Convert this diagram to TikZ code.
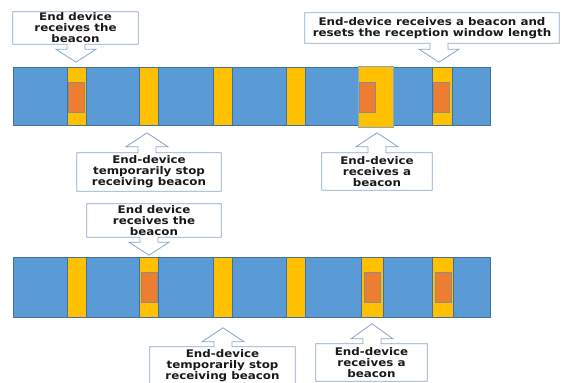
\documentclass[tikz,border=0pt]{standalone}
\usepackage{fontspec}
\setmainfont{DejaVu Sans}[FakeStretch=1.13]
\usetikzlibrary{calc}

\definecolor{slotblue}{HTML}{5B9BD5}
\definecolor{slotyellow}{HTML}{FFC000}
\definecolor{rxorange}{HTML}{ED7D31}
\definecolor{baredge}{HTML}{41719C}
\definecolor{calledge}{HTML}{8AA6C8}

\tikzset{
  idle/.style={fill=slotblue, draw=baredge, line width=0.6pt},
  window/.style={fill=slotyellow, draw=baredge, line width=0.6pt},
  rxbox/.style={fill=rxorange, draw=black!45, line width=0.6pt},
  callbox/.style={inner sep=0pt, align=center, text=black!90,
    font=\bfseries\fontsize{10.5}{11}\selectfont},
  callline/.style={draw=calledge, line width=0.8pt, line join=miter},
}

\begin{document}
\begin{tikzpicture}[x=1pt,y=-1pt]
  \useasboundingbox (0,0) rectangle (574,383);
  \clip (0,0) rectangle (574,383);

  % upper time line
  \draw[idle] (13,67) rectangle (490,125);
  \foreach \xa/\xb in {67/86, 139/158, 213/232, 286/305, 432/452}
    \draw[window] (\xa,67) rectangle (\xb,125);
  \draw[window, draw=calledge] (358,66) rectangle (393,127);
  \foreach \xa in {68, 359, 433}
    \draw[rxbox] (\xa,82) rectangle ++(16,30);

  % lower time line
  \draw[idle] (13,257) rectangle (490,317);
  \foreach \xa/\xb in {67/86, 139/158, 213/232, 286/305, 361/383, 432/453}
    \draw[window] (\xa,257) rectangle (\xb,317);
  \foreach \xa in {141, 364, 435}
    \draw[rxbox] (\xa,272) rectangle ++(16,30);

  % callouts pointing down
  \node[callbox, minimum width=125pt, minimum height=32pt] (rx1) at (75.5,28)
    {End device\\receives the\\beacon};
  \coordinate (t1) at ([xshift=0.5pt,yshift=-18pt]rx1.south);
  \draw[callline] (rx1.south east) -- (rx1.north east) -- (rx1.north west)
    -- (rx1.south west) -- ([xshift=-9pt]rx1.south -| t1) -- ++(0,5)
    -- ++(-11,0) -- (t1) -- ++(20,-13) -- ++(-11,0) -- ++(0,-5) -- cycle;

  \node[callbox, minimum width=254pt, minimum height=30pt] (reset) at (432,28)
    {End-device receives a beacon and\\resets the reception window length};
  \coordinate (t2) at ([xshift=7pt,yshift=-19pt]reset.south);
  \draw[callline] (reset.south east) -- (reset.north east) -- (reset.north west)
    -- (reset.south west) -- ([xshift=-9pt]reset.south -| t2) -- ++(0,6)
    -- ++(-11,0) -- (t2) -- ++(20,-13) -- ++(-11,0) -- ++(0,-6) -- cycle;

  \node[callbox, minimum width=134pt, minimum height=33pt] (rx2) at (154,220.5)
    {End device\\receives the\\beacon};
  \coordinate (t5) at ([xshift=-5pt,yshift=-18pt]rx2.south);
  \draw[callline] (rx2.south east) -- (rx2.north east) -- (rx2.north west)
    -- (rx2.south west) -- ([xshift=-9pt]rx2.south -| t5) -- ++(0,5)
    -- ++(-11,0) -- (t5) -- ++(20,-13) -- ++(-11,0) -- ++(0,-5) -- cycle;

  % callouts pointing up
  \node[callbox, minimum width=144pt, minimum height=38pt] (stop1) at (149,172)
    {End-device\\temporarily stop\\receiving beacon};
  \coordinate (t3) at ([xshift=-2pt,yshift=20pt]stop1.north);
  \draw[callline] (stop1.north west) -- (stop1.south west) -- (stop1.south east)
    -- (stop1.north east) -- ([xshift=9pt]stop1.north -| t3) -- ++(0,-6)
    -- ++(12,0) -- (t3) -- ++(-21,14) -- ++(12,0) -- ++(0,6) -- cycle;

  \node[callbox, minimum width=110pt, minimum height=37pt] (got1) at (377,171.5)
    {End-device\\receives a\\beacon};
  \coordinate (t4) at ([yshift=20pt]got1.north);
  \draw[callline] (got1.north west) -- (got1.south west) -- (got1.south east)
    -- (got1.north east) -- ([xshift=9pt]got1.north -| t4) -- ++(0,-6)
    -- ++(12,0) -- (t4) -- ++(-21,14) -- ++(12,0) -- ++(0,6) -- cycle;

  \node[callbox, minimum width=145pt, minimum height=38pt] (stop2) at (222.5,366)
    {End-device\\temporarily stop\\receiving beacon};
  \coordinate (t6) at ([xshift=0.5pt,yshift=19pt]stop2.north);
  \draw[callline] (stop2.north west) -- (stop2.south west) -- (stop2.south east)
    -- (stop2.north east) -- ([xshift=9pt]stop2.north -| t6) -- ++(0,-5)
    -- ++(12,0) -- (t6) -- ++(-21,14) -- ++(12,0) -- ++(0,5) -- cycle;

  \node[callbox, minimum width=111pt, minimum height=37pt] (got2) at (371.5,362.5)
    {End-device\\receives a\\beacon};
  \coordinate (t7) at ([xshift=0.5pt,yshift=20pt]got2.north);
  \draw[callline] (got2.north west) -- (got2.south west) -- (got2.south east)
    -- (got2.north east) -- ([xshift=9pt]got2.north -| t7) -- ++(0,-5)
    -- ++(12,0) -- (t7) -- ++(-21,15) -- ++(12,0) -- ++(0,5) -- cycle;
\end{tikzpicture}
\end{document}
